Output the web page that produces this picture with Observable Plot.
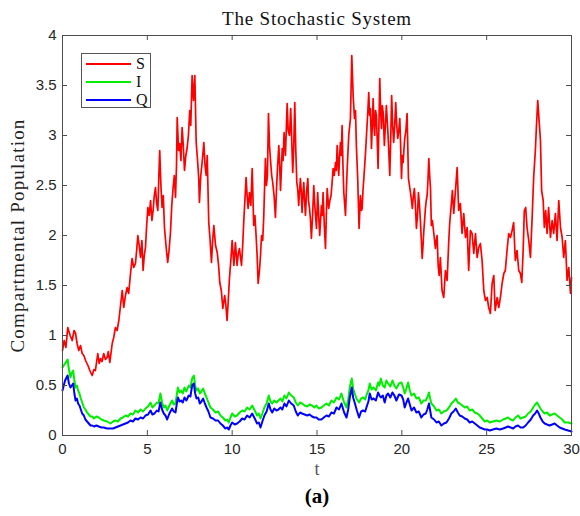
<!DOCTYPE html>
<html>
<head>
<meta charset="utf-8">
<script src="https://cdn.jsdelivr.net/npm/d3@7"></script>
<script src="https://cdn.jsdelivr.net/npm/@observablehq/plot@0.6"></script>
<style>
  body { margin: 0; background: #fff; }
  #chart { position: relative; width: 580px; height: 516px; }
  .legend {
    position: absolute; left: 81px; top: 53px; width: 70px; height: 55px;
    box-sizing: border-box; border: 1px solid #555; background: #fff;
    font-family: "Liberation Serif", serif; font-size: 16px; color: #111;
  }
  .legend .row { position: absolute; left: 4px; height: 18px; display: flex; align-items: center; }
  .legend .swatch { width: 45px; height: 2px; margin-right: 5px; }
</style>
</head>
<body>
<div id="chart"></div>
<script>
// Susceptible compartment S(t)
const sT = [0.0,0.1,0.2,0.31,0.45,0.57,0.68,0.77,0.86,0.96,1.06,1.16,1.26,1.36,1.5,1.61,1.75,1.85,1.94,2.08,2.16,2.24,2.33,2.43,2.53,2.63,2.7,2.79,2.93,3.02,3.12,3.22,3.32,3.42,3.52,3.61,3.71,3.81,3.9,4.01,4.1,4.2,4.3,4.37,4.44,4.52,4.6,4.68,4.75,4.82,4.89,4.96,5.03,5.11,5.19,5.27,5.34,5.41,5.48,5.55,5.62,5.68,5.73,5.8,5.87,5.94,6.01,6.1,6.2,6.28,6.36,6.44,6.52,6.59,6.66,6.72,6.76,6.84,6.91,6.98,7.05,7.12,7.19,7.27,7.35,7.42,7.5,7.56,7.64,7.72,7.8,7.88,7.96,8.03,8.07,8.15,8.23,8.33,8.4,8.47,8.53,8.62,8.7,8.78,8.85,8.92,9.02,9.12,9.2,9.27,9.36,9.45,9.56,9.63,9.7,9.77,9.84,9.92,10.0,10.1,10.19,10.29,10.36,10.43,10.55,10.62,10.68,10.75,10.82,10.88,10.94,11.02,11.1,11.18,11.27,11.34,11.41,11.47,11.53,11.61,11.67,11.73,11.8,11.86,11.96,12.02,12.08,12.14,12.2,12.27,12.33,12.39,12.47,12.55,12.61,12.67,12.75,12.8,12.85,12.95,13.0,13.06,13.14,13.24,13.3,13.38,13.45,13.51,13.57,13.63,13.69,13.75,13.81,13.87,13.92,14.02,14.07,14.12,14.17,14.22,14.27,14.32,14.39,14.46,14.5,14.56,14.61,14.67,14.74,14.81,14.87,14.97,15.04,15.1,15.16,15.26,15.31,15.36,15.43,15.5,15.55,15.6,15.69,15.76,15.83,15.9,15.95,16.02,16.09,16.14,16.19,16.28,16.33,16.38,16.43,16.48,16.53,16.58,16.68,16.73,16.78,16.87,16.93,16.97,17.05,17.13,17.21,17.27,17.32,17.4,17.48,17.56,17.62,17.66,17.71,17.76,17.85,17.95,18.0,18.05,18.1,18.15,18.21,18.26,18.31,18.36,18.4,18.45,18.5,18.55,18.6,18.65,18.7,18.75,18.8,18.85,18.9,18.97,19.03,19.09,19.14,19.19,19.24,19.29,19.35,19.4,19.46,19.52,19.58,19.64,19.7,19.76,19.82,19.88,19.93,19.98,20.03,20.08,20.12,20.17,20.24,20.31,20.35,20.39,20.45,20.51,20.57,20.62,20.68,20.74,20.8,20.86,20.92,20.98,21.04,21.1,21.15,21.2,21.25,21.29,21.34,21.39,21.44,21.49,21.54,21.59,21.64,21.69,21.74,21.8,21.88,21.93,21.98,22.03,22.08,22.14,22.2,22.27,22.37,22.47,22.57,22.67,22.76,22.82,22.9,22.98,23.06,23.16,23.26,23.35,23.45,23.55,23.65,23.75,23.85,23.94,24.04,24.14,24.24,24.34,24.44,24.53,24.63,24.73,24.83,24.93,25.03,25.12,25.22,25.32,25.42,25.5,25.62,25.71,25.81,25.91,26.01,26.1,26.2,26.3,26.4,26.5,26.59,26.69,26.79,26.89,26.99,27.07,27.15,27.22,27.3,27.38,27.48,27.58,27.68,27.77,27.87,27.93,28.01,28.09,28.17,28.24,28.33,28.4,28.48,28.56,28.65,28.76,28.86,28.95,29.05,29.15,29.25,29.35,29.45,29.54,29.64,29.74,29.84,29.94,30.0];
const sV = [0.85,0.95,0.88,1.08,1.0,0.95,1.05,1.02,0.92,0.85,0.9,0.82,0.8,0.75,0.7,0.65,0.6,0.66,0.65,0.82,0.72,0.77,0.74,0.82,0.76,0.78,0.84,0.73,0.92,0.98,1.08,1.05,1.15,1.3,1.45,1.28,1.4,1.48,1.42,1.62,1.77,1.68,1.72,1.85,2.0,1.9,1.78,1.95,1.65,1.8,1.88,2.1,2.28,2.2,2.35,2.15,2.25,2.4,2.48,2.32,2.25,2.6,2.85,2.5,2.28,2.4,2.08,1.9,1.73,1.85,2.02,2.3,2.48,2.6,2.38,2.7,3.18,2.85,2.92,2.75,3.08,2.9,2.65,2.8,2.88,3.0,3.25,3.1,3.6,3.35,3.6,2.93,2.75,2.57,2.33,2.6,2.73,2.93,2.7,2.6,2.8,2.13,1.95,1.73,1.95,2.1,1.9,1.83,1.7,1.53,1.45,1.27,1.4,1.3,1.15,1.35,1.57,1.75,1.95,1.7,1.93,1.7,1.82,1.87,1.7,1.9,2.13,2.35,2.58,2.4,2.27,2.43,2.3,2.67,2.1,2.2,2.0,1.8,1.52,1.65,1.8,2.0,1.95,2.18,2.77,2.5,2.6,3.22,2.9,2.73,2.6,2.53,2.4,2.18,2.45,2.67,2.9,2.7,2.45,2.87,2.75,3.03,2.8,3.32,3.05,3.0,3.27,2.95,2.63,2.9,3.33,2.85,2.53,2.45,2.3,2.57,2.45,2.23,2.4,2.53,2.35,2.2,2.45,2.57,2.35,2.27,2.17,1.97,2.2,2.5,2.3,2.07,2.43,2.2,2.0,2.3,2.2,2.43,2.1,1.87,2.2,2.47,2.27,2.35,2.4,2.55,2.67,2.6,2.73,2.65,2.9,2.6,2.78,2.93,2.8,3.1,2.7,2.43,2.2,2.45,2.67,3.0,3.1,3.17,3.8,3.4,3.17,3.25,2.9,2.57,2.07,2.4,2.25,2.27,2.45,2.57,2.8,3.1,3.25,3.43,3.2,3.27,2.87,3.1,3.37,3.1,3.0,3.25,3.2,2.95,2.67,3.1,3.57,3.25,3.07,3.3,3.23,2.9,3.1,3.3,3.15,3.0,2.8,2.6,3.0,3.4,3.1,2.93,3.1,3.33,3.1,2.97,3.05,3.17,2.9,2.57,2.8,2.73,2.85,2.97,3.05,3.22,2.9,2.57,2.5,2.43,2.35,2.27,2.4,2.47,2.3,2.07,2.2,2.43,2.3,2.13,1.95,1.77,1.9,2.03,2.15,2.27,2.35,2.4,2.55,2.77,2.6,2.47,2.1,2.15,2.03,1.95,1.87,1.95,2.0,1.7,1.6,1.78,1.45,1.38,1.65,1.55,1.92,2.12,2.28,2.45,2.22,2.45,2.68,2.25,2.32,2.02,2.22,1.98,2.08,1.65,2.05,2.02,1.82,2.02,1.78,1.88,1.92,1.75,1.45,1.35,1.38,1.28,1.22,1.52,1.6,1.25,1.38,1.28,1.38,1.52,1.62,1.65,1.85,2.02,1.98,2.05,2.13,1.75,1.85,1.65,1.62,1.53,1.85,2.25,2.28,2.08,1.95,1.78,2.18,2.58,2.85,3.08,3.35,3.15,2.95,2.45,2.35,2.08,2.25,2.02,2.28,1.98,2.15,2.02,2.22,1.95,2.35,2.08,1.98,1.78,1.95,1.55,1.68,1.42,1.58];

// Infected (I) and quarantined (Q) compartments, sampled at shared times
const iqT = [0.0,0.15,0.3,0.38,0.47,0.55,0.63,0.7,0.77,0.85,0.92,1.0,1.06,1.16,1.26,1.35,1.45,1.55,1.65,1.75,1.85,2.0,2.14,2.3,2.43,2.63,2.83,2.98,3.12,3.27,3.42,3.56,3.71,3.86,4.01,4.15,4.3,4.45,4.6,4.75,4.89,5.04,5.19,5.3,5.42,5.56,5.66,5.77,5.87,5.97,6.07,6.17,6.3,6.46,6.56,6.66,6.73,6.8,6.9,6.99,7.09,7.19,7.3,7.44,7.54,7.64,7.74,7.82,7.9,8.0,8.09,8.19,8.29,8.39,8.49,8.6,8.72,8.87,9.02,9.17,9.31,9.45,9.6,9.7,9.8,9.9,10.0,10.15,10.29,10.44,10.59,10.73,10.88,11.03,11.18,11.33,11.47,11.57,11.67,11.78,11.9,12.03,12.16,12.26,12.36,12.48,12.61,12.73,12.85,12.96,13.08,13.2,13.34,13.48,13.63,13.75,13.87,14.0,14.12,14.27,14.42,14.56,14.71,14.84,14.97,15.1,15.26,15.4,15.56,15.7,15.85,16.0,16.15,16.3,16.44,16.6,16.74,16.84,16.93,17.05,17.13,17.22,17.35,17.48,17.6,17.72,17.84,17.95,18.03,18.11,18.22,18.34,18.47,18.6,18.68,18.76,18.88,18.99,19.09,19.19,19.32,19.45,19.56,19.68,19.83,19.98,20.08,20.17,20.27,20.37,20.47,20.57,20.72,20.86,21.0,21.15,21.28,21.41,21.5,21.6,21.67,21.74,21.9,22.04,22.18,22.33,22.48,22.63,22.78,22.92,23.05,23.18,23.3,23.41,23.56,23.71,23.85,24.0,24.15,24.3,24.45,24.59,24.74,24.89,25.03,25.18,25.37,25.57,25.77,25.97,26.12,26.26,26.41,26.56,26.7,26.85,27.0,27.15,27.3,27.44,27.6,27.74,27.86,27.97,28.07,28.17,28.3,28.42,28.56,28.71,28.86,29.01,29.15,29.3,29.45,29.6,29.8,30.0];
const iV = [0.68,0.72,0.76,0.66,0.58,0.63,0.65,0.55,0.48,0.5,0.45,0.42,0.38,0.33,0.28,0.26,0.23,0.21,0.19,0.19,0.17,0.19,0.18,0.16,0.15,0.14,0.12,0.14,0.15,0.14,0.17,0.18,0.2,0.19,0.22,0.21,0.25,0.23,0.26,0.24,0.27,0.29,0.33,0.28,0.3,0.33,0.32,0.42,0.33,0.28,0.3,0.25,0.3,0.35,0.31,0.32,0.4,0.48,0.43,0.45,0.42,0.48,0.44,0.5,0.48,0.57,0.6,0.5,0.45,0.47,0.42,0.44,0.47,0.42,0.38,0.33,0.28,0.26,0.23,0.24,0.2,0.18,0.15,0.16,0.13,0.18,0.22,0.19,0.2,0.23,0.25,0.24,0.28,0.26,0.3,0.25,0.2,0.22,0.17,0.22,0.28,0.32,0.4,0.34,0.32,0.35,0.33,0.35,0.37,0.34,0.4,0.37,0.43,0.4,0.38,0.33,0.3,0.33,0.32,0.3,0.29,0.31,0.3,0.28,0.3,0.27,0.28,0.3,0.32,0.3,0.35,0.33,0.38,0.36,0.42,0.33,0.28,0.36,0.48,0.57,0.47,0.42,0.36,0.33,0.37,0.38,0.36,0.42,0.45,0.52,0.46,0.48,0.45,0.53,0.5,0.57,0.5,0.48,0.55,0.52,0.49,0.55,0.5,0.47,0.52,0.53,0.48,0.42,0.47,0.53,0.45,0.4,0.42,0.37,0.38,0.32,0.35,0.35,0.38,0.43,0.37,0.32,0.29,0.25,0.26,0.22,0.24,0.25,0.28,0.32,0.34,0.37,0.33,0.32,0.3,0.28,0.29,0.25,0.26,0.23,0.22,0.2,0.17,0.14,0.15,0.13,0.14,0.15,0.14,0.16,0.17,0.18,0.16,0.15,0.18,0.2,0.17,0.18,0.19,0.22,0.24,0.28,0.31,0.33,0.3,0.27,0.24,0.22,0.23,0.2,0.21,0.22,0.2,0.18,0.16,0.13,0.13,0.12];
const qV = [0.45,0.55,0.6,0.52,0.48,0.5,0.52,0.42,0.35,0.37,0.32,0.3,0.27,0.22,0.2,0.16,0.14,0.12,0.1,0.1,0.09,0.1,0.09,0.08,0.08,0.07,0.07,0.07,0.08,0.09,0.1,0.11,0.12,0.13,0.15,0.14,0.17,0.16,0.18,0.17,0.2,0.21,0.25,0.21,0.22,0.25,0.24,0.33,0.26,0.22,0.2,0.16,0.22,0.27,0.24,0.23,0.31,0.38,0.34,0.35,0.33,0.38,0.35,0.4,0.39,0.5,0.52,0.42,0.37,0.38,0.32,0.34,0.37,0.32,0.28,0.24,0.18,0.17,0.15,0.15,0.12,0.1,0.07,0.08,0.06,0.1,0.13,0.11,0.12,0.14,0.17,0.16,0.2,0.18,0.22,0.17,0.12,0.13,0.08,0.14,0.2,0.24,0.32,0.26,0.23,0.27,0.25,0.26,0.28,0.26,0.32,0.29,0.35,0.32,0.3,0.24,0.2,0.23,0.22,0.21,0.2,0.21,0.19,0.18,0.18,0.16,0.16,0.18,0.2,0.19,0.23,0.22,0.28,0.26,0.32,0.23,0.18,0.26,0.38,0.48,0.38,0.33,0.25,0.18,0.24,0.25,0.24,0.3,0.34,0.42,0.36,0.37,0.35,0.43,0.4,0.38,0.4,0.33,0.4,0.42,0.38,0.43,0.4,0.35,0.41,0.4,0.36,0.28,0.33,0.37,0.31,0.25,0.28,0.23,0.24,0.18,0.21,0.22,0.26,0.32,0.25,0.18,0.16,0.13,0.14,0.1,0.12,0.13,0.17,0.22,0.24,0.27,0.23,0.2,0.19,0.17,0.16,0.13,0.14,0.12,0.1,0.08,0.07,0.06,0.06,0.05,0.06,0.07,0.06,0.07,0.08,0.09,0.08,0.07,0.09,0.1,0.08,0.08,0.1,0.13,0.16,0.2,0.22,0.25,0.22,0.18,0.14,0.12,0.11,0.1,0.11,0.12,0.1,0.08,0.07,0.06,0.05,0.04];

// Axis ticks and legend entries
const xTicks = [0, 5, 10, 15, 20, 25, 30];
const yTicks = [0, 0.5, 1, 1.5, 2, 2.5, 3, 3.5, 4];
const seriesNames = ["S", "I", "Q"];
const seriesColors = ["#ff0000", "#00ee00", "#0000ff"];

const sRows = sT.map((t, k) => ({t, v: sV[k]}));
const iRows = iqT.map((t, k) => ({t, v: iV[k]}));
const qRows = iqT.map((t, k) => ({t, v: qV[k]}));

const serif = "'Liberation Serif', 'Times New Roman', serif";
const axisColor = "#4d4d4d";

const chart = Plot.plot({
  width: 580,
  height: 516,
  marginLeft: 62,
  marginRight: 9,
  marginTop: 35,
  marginBottom: 81,
  style: {fontFamily: "'Liberation Sans', Arial, sans-serif", fontSize: "14px", color: "#262626", background: "#fff"},
  x: {domain: [0, 30]},
  y: {domain: [0, 4]},
  marks: [
    Plot.line(sRows, {x: "t", y: "v", stroke: seriesColors[0], strokeWidth: 1.7}),
    Plot.line(iRows, {x: "t", y: "v", stroke: seriesColors[1], strokeWidth: 2}),
    Plot.line(qRows, {x: "t", y: "v", stroke: seriesColors[2], strokeWidth: 2}),
    Plot.frame({stroke: axisColor, strokeWidth: 1}),
    // inward ticks on all four sides
    Plot.tickX(xTicks, {x: d => d, insetTop: 395, stroke: axisColor}),
    Plot.tickX(xTicks, {x: d => d, insetBottom: 395, stroke: axisColor}),
    Plot.tickY(yTicks, {y: d => d, insetRight: 504, stroke: axisColor}),
    Plot.tickY(yTicks, {y: d => d, insetLeft: 504, stroke: axisColor}),
    Plot.axisX(xTicks, {tickSize: 0, tickPadding: 8, label: null, tickFormat: d => String(d), fontSize: 15}),
    Plot.axisY(yTicks, {tickSize: 0, tickPadding: 6, label: null, tickFormat: d => String(d), fontSize: 15}),
    Plot.text(["The Stochastic System"], {text: d => d, frameAnchor: "top", lineAnchor: "middle", dy: -17, fontFamily: serif, fontSize: 19, fill: "#111"}),
    Plot.text(["Compartmental Population"], {text: d => d, frameAnchor: "left", textAnchor: "middle", lineAnchor: "middle", rotate: -90, dx: -45, fontFamily: serif, fontSize: 19, fill: "#222"}),
    Plot.text(["t"], {text: d => d, frameAnchor: "bottom", lineAnchor: "middle", dy: 34, fontFamily: serif, fontSize: 18, fill: "#555"}),
    Plot.text(["(a)"], {text: d => d, frameAnchor: "bottom", lineAnchor: "middle", dy: 61, fontFamily: serif, fontSize: 21, fontWeight: "bold", fill: "#000"})
  ]
});

// Computer Modern is wider than Times; open up the spacing of the serif labels
d3.select(chart).selectAll("text").each(function() {
  const s = this.textContent;
  if (s === "The Stochastic System") d3.select(this).attr("letter-spacing", "0.8px");
  if (s === "Compartmental Population") d3.select(this).attr("letter-spacing", "1.2px");
});

const root = document.getElementById("chart");
root.appendChild(chart);

// Legend box in the upper-left corner of the axes
const legend = document.createElement("div");
legend.className = "legend";
seriesNames.forEach((name, k) => {
  const row = document.createElement("div");
  row.className = "row";
  row.style.top = (1 + 18 * k) + "px";
  const sw = document.createElement("span");
  sw.className = "swatch";
  sw.style.background = seriesColors[k];
  const label = document.createElement("span");
  label.textContent = name;
  row.appendChild(sw);
  row.appendChild(label);
  legend.appendChild(row);
});
root.appendChild(legend);
</script>
</body>
</html>
